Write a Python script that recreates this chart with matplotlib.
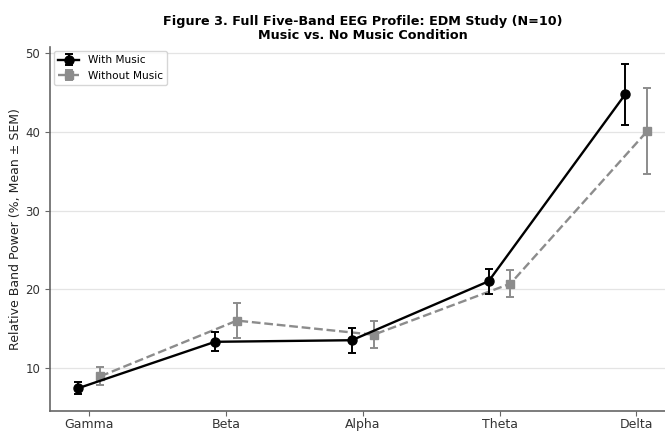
import matplotlib
matplotlib.use("Agg")
import matplotlib.pyplot as plt
import numpy as np

bands = ["Gamma", "Beta", "Alpha", "Theta", "Delta"]
music_mean = [7.4, 13.3, 13.5, 21.0, 44.8]
music_sem = [0.8, 1.2, 1.6, 1.6, 3.9]
nomusic_mean = [8.9, 16.0, 14.2, 20.7, 40.1]
nomusic_sem = [1.15, 2.25, 1.7, 1.7, 5.5]

x = np.arange(len(bands))
offset = 0.08

fig = plt.figure(figsize=(6.65, 4.32), dpi=100)
ax = fig.add_axes([0.075, 0.0486, 0.941, 0.8426])

ax.errorbar(x - offset, music_mean, yerr=music_sem, color="black", marker="o",
            markersize=6.5, linewidth=1.7, linestyle="-", capsize=3.2,
            elinewidth=1.4, capthick=1.4, label="With Music", zorder=3)
ax.errorbar(x + offset, nomusic_mean, yerr=nomusic_sem, color="#8c8c8c", marker="s",
            markersize=6, linewidth=1.7, linestyle="--", capsize=3.2,
            elinewidth=1.4, capthick=1.4, label="Without Music", zorder=2)

ax.set_xticks(x)
ax.set_xticklabels(bands, fontsize=9)
ax.set_yticks([10, 20, 30, 40, 50])
ax.tick_params(axis="y", labelsize=8.5, colors="#333333", length=3.5, color="#666666")
ax.tick_params(axis="x", colors="#333333", length=3.5, color="#666666", pad=1.5)
ax.set_ylabel("Relative Band Power (%, Mean ± SEM)", fontsize=9, color="#222222", labelpad=2)

ax.yaxis.grid(True, color="#e4e4e4", linewidth=0.9)
ax.set_axisbelow(True)
for side in ("top", "right"):
    ax.spines[side].set_visible(False)
for side in ("left", "bottom"):
    ax.spines[side].set_color("#666666")
    ax.spines[side].set_linewidth(1.2)

ax.set_title("Figure 3. Full Five-Band EEG Profile: EDM Study (N=10)\nMusic vs. No Music Condition",
             fontsize=9.2, fontweight="bold", linespacing=1.05, pad=6)
ax.legend(loc="upper left", fontsize=7.6, frameon=True, borderaxespad=0.4)

fig.savefig("out.png", dpi=100)
